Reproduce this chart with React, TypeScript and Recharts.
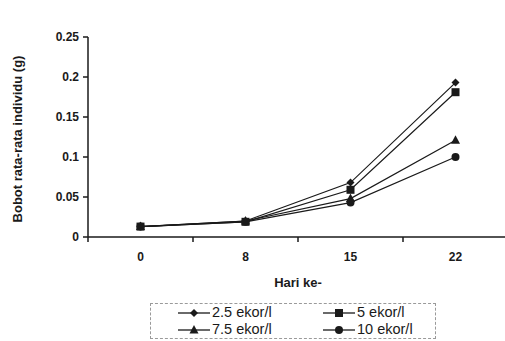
import React from 'react';
import { LineChart, Line, XAxis, YAxis } from 'recharts';

const days = ['0', '8', '15', '22'];
const s25 = [0.013, 0.02, 0.068, 0.193];
const s5 = [0.013, 0.019, 0.059, 0.181];
const s75 = [0.013, 0.02, 0.048, 0.121];
const s10 = [0.013, 0.019, 0.043, 0.1];
const yTicks = [0, 0.05, 0.1, 0.15, 0.2, 0.25];

const data = days.map((d, i) => ({ day: d, a: s25[i], b: s5[i], c: s75[i], d10: s10[i] }));

const INK = '#1a1a1a';
const FONT = '"Liberation Sans", Arial, sans-serif';
const BAND = 105;

function Marker({ shape, cx, cy }: { shape: string; cx: number; cy: number }) {
  if (cx == null || cy == null) return null;
  if (shape === 'diamond')
    return <polygon points={`${cx},${cy - 4} ${cx + 4},${cy} ${cx},${cy + 4} ${cx - 4},${cy}`} fill={INK} />;
  if (shape === 'square') return <rect x={cx - 4} y={cy - 4} width={8} height={8} fill={INK} />;
  if (shape === 'triangle')
    return <polygon points={`${cx},${cy - 5} ${cx + 4.5},${cy + 3.5} ${cx - 4.5},${cy + 3.5}`} fill={INK} />;
  return <circle cx={cx} cy={cy} r={4} fill={INK} />;
}

const dotFor = (shape: string) => (p: any) => <Marker key={`${shape}-${p.index}`} shape={shape} cx={p.cx} cy={p.cy} />;

function XTick(props: any) {
  const { x, y, payload } = props;
  return (
    <g>
      <line x1={x - BAND / 2} x2={x - BAND / 2} y1={y - 8} y2={y - 3} stroke={INK} strokeWidth={1.5} />
      <text x={x} y={y + 16} textAnchor="middle" fill={INK} fontSize={12} fontWeight="bold" fontFamily={FONT}>
        {payload.value}
      </text>
    </g>
  );
}

function YTitle(props: any) {
  const vb = props.viewBox || {};
  const cx = 17;
  const cy = vb.y + vb.height / 2 + 2;
  return (
    <text
      x={cx}
      y={cy}
      transform={`rotate(-90 ${cx} ${cy})`}
      textAnchor="middle"
      dominantBaseline="central"
      fill={INK}
      fontSize={13}
      fontWeight="bold"
      fontFamily={FONT}
    >
      Bobot rata-rata individu (g)
    </text>
  );
}

const legendItems = [
  { name: '2.5 ekor/l', shape: 'diamond' },
  { name: '5 ekor/l', shape: 'square' },
  { name: '7.5 ekor/l', shape: 'triangle' },
  { name: '10 ekor/l', shape: 'circle' },
];

function LegendBox() {
  return (
    <div
      style={{
        position: 'absolute', left: 150, top: 303, width: 286, height: 36,
        border: '1px dashed #9a9a9a', boxSizing: 'border-box',
        display: 'grid', gridTemplateColumns: '145px 120px', paddingLeft: 27, paddingTop: 0,
        fontFamily: FONT, fontSize: 14.5, color: INK, lineHeight: '17px',
      }}
    >
      {legendItems.map((it) => (
        <div key={it.name} style={{ display: 'flex', alignItems: 'center' }}>
          <svg width={32} height={12}>
            <line x1={0} x2={32} y1={6} y2={6} stroke={INK} strokeWidth={1.3} />
            <Marker shape={it.shape} cx={16} cy={6} />
          </svg>
          <span style={{ marginLeft: 2 }}>{it.name}</span>
        </div>
      ))}
    </div>
  );
}

export default function App() {
  return (
    <div style={{ position: 'absolute', left: 0, top: 0, width: 505, height: 341, overflow: 'hidden', background: '#fff' }}>
      <LineChart width={512} height={341} data={data} margin={{ top: 37, right: 4, bottom: 44, left: 0 }}>
        <XAxis
          dataKey="day"
          height={60}
          padding={{ left: BAND / 2, right: BAND / 2 }}
          tick={<XTick />}
          tickLine={false}
          axisLine={{ stroke: INK, strokeWidth: 1.5 }}
          interval={0}
          label={{ value: 'Hari ke-', position: 'insideBottom', offset: 10, fill: INK, fontSize: 13, fontWeight: 'bold', fontFamily: FONT }}
        />
        <YAxis
          width={88}
          domain={[0, 0.25]}
          ticks={yTicks}
          tickSize={5}
          tickMargin={4}
          tick={{ fill: INK, fontSize: 12, fontWeight: 'bold', fontFamily: FONT }}
          tickLine={{ stroke: INK, strokeWidth: 1.5 }}
          axisLine={{ stroke: INK, strokeWidth: 1.5 }}
          label={<YTitle />}
        />
        <Line dataKey="a" stroke={INK} strokeWidth={1.2} dot={dotFor('diamond')} isAnimationActive={false} />
        <Line dataKey="c" stroke={INK} strokeWidth={1.2} dot={dotFor('triangle')} isAnimationActive={false} />
        <Line dataKey="d10" stroke={INK} strokeWidth={1.2} dot={dotFor('circle')} isAnimationActive={false} />
        <Line dataKey="b" stroke={INK} strokeWidth={1.2} dot={dotFor('square')} isAnimationActive={false} />
      </LineChart>
      <LegendBox />
    </div>
  );
}
